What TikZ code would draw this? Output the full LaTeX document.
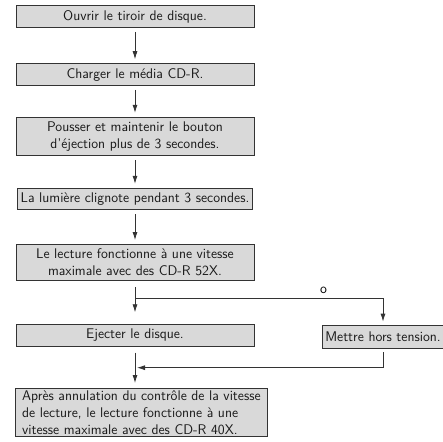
\documentclass[tikz,border=0pt]{standalone}
\usetikzlibrary{arrows.meta}

\begin{document}
\begin{tikzpicture}[
    box/.style={
        draw=black!80,
        line width=0.8pt,
        fill=black!15,
        text=black!90,
        minimum width=238pt,
        minimum height=21pt,
        inner xsep=3pt,
        inner ysep=4.5pt,
        align=center,
        font=\sffamily\fontsize{14pt}{17pt}\selectfont
    },
    arr/.style={
        -{Latex[length=8pt,width=5pt]},
        draw=black!80,
        line width=0.8pt,
        shorten <=4pt,
        shorten >=4pt
    }
]
\useasboundingbox (0pt,0pt) rectangle (443pt,-441pt);

% Main nodes
\node[box] (open) at (135pt,-16.5pt) {Ouvrir le tiroir de disque.};

\node[box] (load) at (135pt,-74.5pt) {Charger le média CD-R.};

\node[box] (hold) at (135pt,-136.5pt) {
    Pousser et maintenir le bouton \\
    d'éjection plus de 3 secondes.
};

\node[box, minimum width=0pt, inner xsep=3.5pt] (blink) at (135pt,-199pt) {La lumière clignote pendant 3 secondes.};

\node[box] (full) at (135pt,-262.5pt) {
    Le lecture fonctionne à une vitesse \\
    maximale avec des CD-R 52X.
};

\node[box] (eject) at (135pt,-335.5pt) {Ejecter le disque.};

\node[box, minimum width=0pt, inner xsep=2.5pt, minimum height=23pt] (stop) at (383pt,-336.5pt) {Mettre hors tension.};

\node[box, anchor=north west, align=left, minimum width=252pt,
      inner xsep=6pt, inner ysep=2pt] (result) at (15pt,-388pt) {
    Après annulation du contrôle de la vitesse \\
    de lecture, le lecture fonctionne à une \\
    vitesse maximale avec des CD-R 40X.
};

% Branch points
\coordinate (split) at ([yshift=-17pt]full.south);
\coordinate (join) at ([yshift=-21pt]eject.south);

% Arrows
\draw[arr] (open) -- (load);
\draw[arr] (load) -- (hold);
\draw[arr] (hold) -- (blink);
\draw[arr] (blink) -- (full);
\draw[arr, shorten <=6pt, shorten >=12pt] (full) -- (eject);
\draw[arr, shorten <=0pt, shorten >=3pt] (split) -| node[pos=0.38, above, inner sep=4pt, font=\sffamily\fontsize{14pt}{17pt}\selectfont] (or) {o} (stop);
\draw[arr, shorten >=2pt] (stop) |- (join);
\draw[arr, shorten <=6pt, shorten >=5pt] (eject.south) -- (eject.south |- result.north);

\end{tikzpicture}
\end{document}
